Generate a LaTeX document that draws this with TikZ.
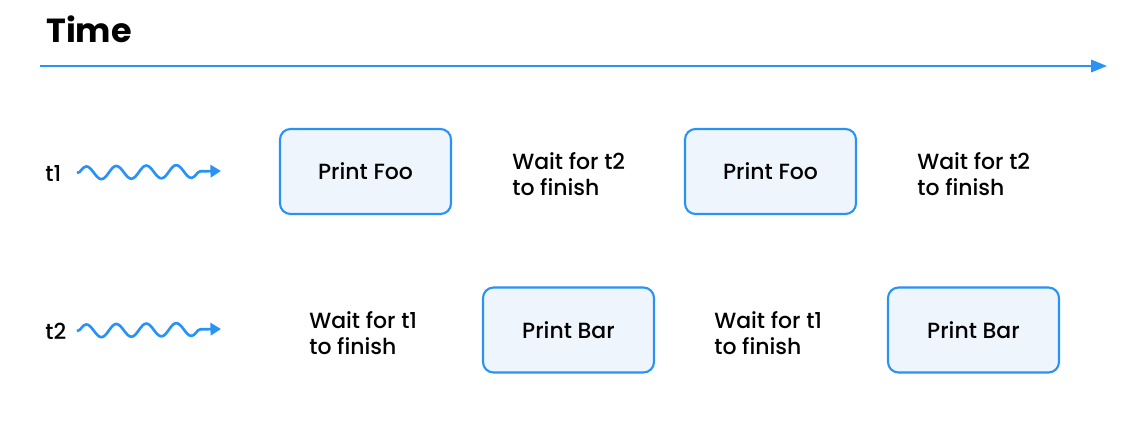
\documentclass[tikz,border=0pt]{standalone}
\usepackage{fontspec}
\setmainfont{Poppins}[UprightFont=* Medium, BoldFont=* Bold]
\usetikzlibrary{arrows.meta,decorations.pathmorphing}
\definecolor{lineblue}{RGB}{40,146,245}
\definecolor{boxfill}{RGB}{239,245,253}
\tikzset{
  task/.style={draw=lineblue, line width=1.2pt, fill=boxfill, rounded corners=6pt,
    minimum width=171*0.02cm, minimum height=85*0.02cm, font=\fontsize{12.5}{14}\selectfont},
  waitnote/.style={anchor=west, align=left, inner sep=0pt, font=\fontsize{12.5}{14.7}\selectfont},
  thread/.style={anchor=west, inner sep=0pt, font=\fontsize{12.5}{14}\selectfont},
  wave/.style={lineblue, line width=1.5pt, -{Triangle[length=6pt,width=7pt]},
    decorate, decoration={snake, segment length=0.6cm, amplitude=0.13cm, post length=4pt}}
}
\begin{document}
\begin{tikzpicture}[x=0.02cm, y=-0.02cm]
    \useasboundingbox (0,0) rectangle (1140,424);

    % time axis
    \node[anchor=base west, inner sep=0pt, font=\fontsize{19}{22}\selectfont\bfseries] (time) at (46,42) {Time};
    \coordinate (t0) at (40,66);
    \coordinate (t9) at (1107,66);
    \draw[lineblue, line width=1.2pt, -{Triangle[length=9pt,width=7pt]}] (t0) -- (t9);

    % thread 1
    \node[thread] (t1) at (45,173) {t1};
    \coordinate (w1a) at (77,173);
    \coordinate (w1b) at (221,171);
    \draw[wave] (w1a) -- (w1b);
    \node[task] (foo1) at (365.5,171.5) {Print Foo};
    \node[waitnote] (wait1) at (512,174) {Wait for t2\\to finish};
    \node[task] (foo2) at (770.5,171.5) {Print Foo};
    \node[waitnote] (wait2) at (917,174) {Wait for t2\\to finish};

    % thread 2
    \node[thread] (t2) at (45,331) {t2};
    \coordinate (w2a) at (77,331);
    \coordinate (w2b) at (221,329);
    \draw[wave] (w2a) -- (w2b);
    \node[waitnote] (wait3) at (309,333) {Wait for t1\\to finish};
    \node[task] (bar1) at (568.5,330) {Print Bar};
    \node[waitnote] (wait4) at (714,333) {Wait for t1\\to finish};
    \node[task] (bar2) at (973.5,330) {Print Bar};
\end{tikzpicture}
\end{document}
